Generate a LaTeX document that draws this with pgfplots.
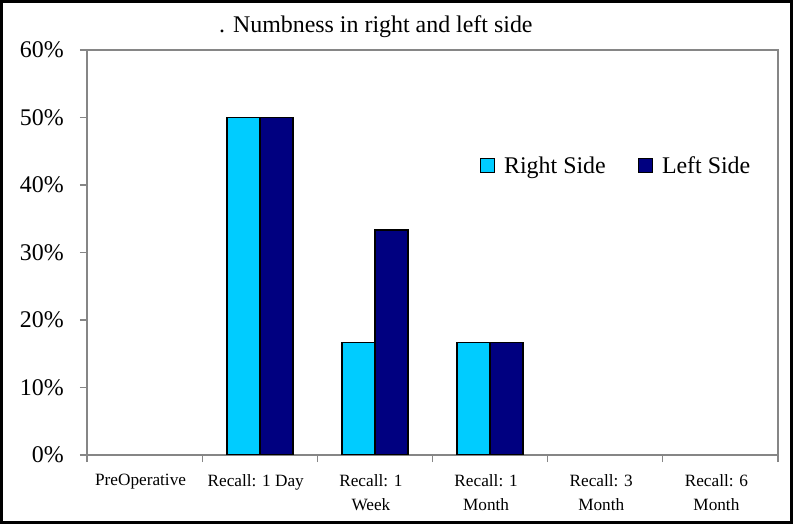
\documentclass[border=0pt]{standalone}
\usepackage{pgfplots}
\pgfplotsset{compat=1.18}
\usepackage{fontspec}
\setmainfont{Liberation Serif}
\definecolor{rightc}{HTML}{00CCFF}
\definecolor{leftc}{HTML}{000080}
\definecolor{axgray}{HTML}{868686}
\begin{document}
\begin{tikzpicture}
\useasboundingbox (0,0) rectangle (793bp,524bp);
\draw[line width=3bp] (1.5bp,1.5bp) rectangle (791.5bp,522.5bp);
\begin{axis}[
  at={(87bp,69bp)}, anchor=south west,
  scale only axis, width=691bp, height=405bp,
  ymin=0, ymax=60, xmin=-0.5, xmax=5.5,
  ybar=0pt, bar width=33bp,
  axis line style={axgray, line width=1.2bp},
  tick style={axgray, line width=1.2bp},
  major tick length=7bp, tick align=outside,
  xtick pos=bottom, ytick pos=left,
  ytick={0,10,...,60},
  yticklabel={\pgfmathprintnumber{\tick}\%},
  /pgf/number format/assume math mode=true,
  yticklabel style={font=\fontsize{24}{28}\selectfont, inner sep=0pt, anchor=east, xshift=-16bp},
  xtick={-0.5,0.5,...,5.5}, xticklabels={},
  extra x ticks={0,1,2,3,4,5},
  extra x tick labels={PreOperative, Recall: 1 Day, {Recall: 1\\Week}, {Recall: 1\\Month}, {Recall: 3\\Month}, {Recall: 6\\Month}},
  extra x tick style={major tick length=0pt},
  xticklabel style={font=\fontsize{17.3}{24}\selectfont, align=center, inner sep=0pt, anchor=north, yshift=-19bp, xshift=-4bp},
  title={. Numbness in right and left side},
  title style={font=\fontsize{24}{28}\selectfont, at={(0.418,1)}, anchor=base, yshift=12bp, inner sep=0pt},
  legend columns=2,
  legend style={draw=none, fill=none, font=\fontsize{24}{28}\selectfont, at={(0.564,0.714)}, anchor=west,
    /tikz/every even column/.append style={column sep=30bp}},
  sq/.style={legend image code/.code={\draw[##1, draw=black, line width=1bp] (0bp,-7bp) rectangle (14bp,7bp); \path (21bp,0bp);}},
]
\addplot[fill=rightc, draw=black, line width=1.5bp, sq] coordinates {(1,50) (2,16.67) (3,16.67)};
\addplot[fill=leftc, draw=black, line width=1.5bp, sq] coordinates {(1,50) (2,33.33) (3,16.67)};
\legend{Right Side, Left Side}
\end{axis}
\end{tikzpicture}
\end{document}
